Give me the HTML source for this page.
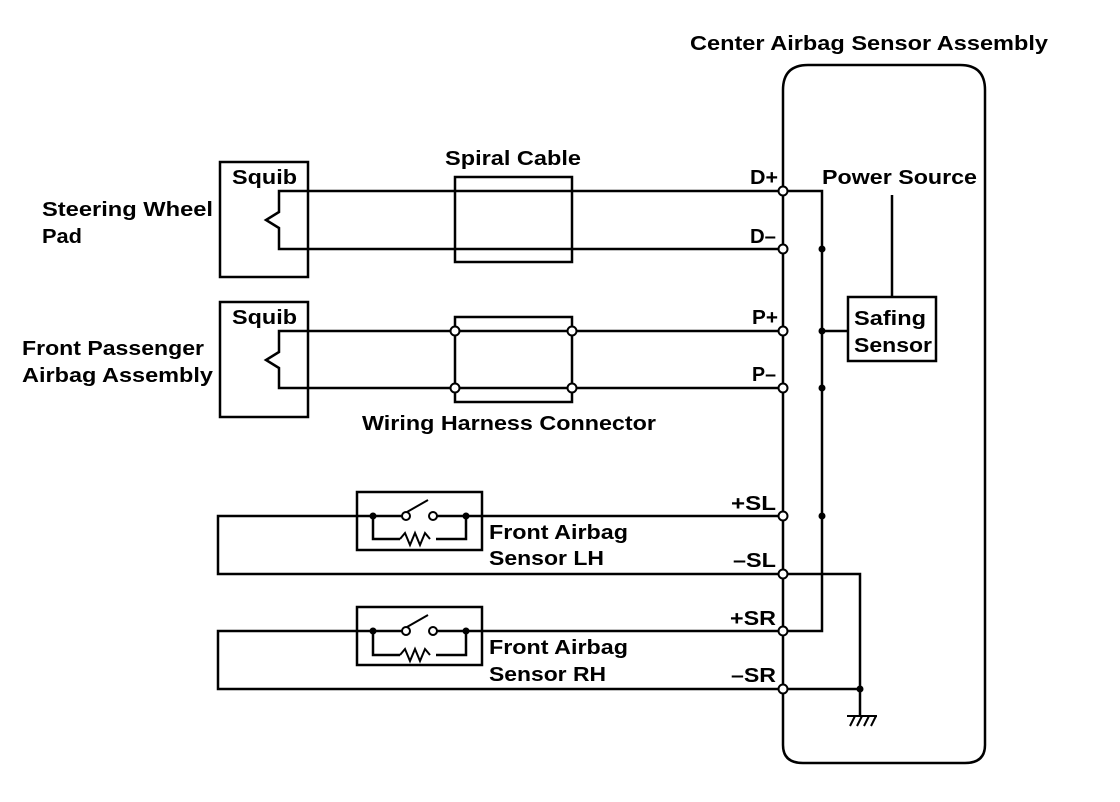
<!DOCTYPE html>
<html><head><style>body{margin:0;background:#fff}svg{display:block}text{font-family:"Liberation Sans",sans-serif;font-size:20px;font-weight:bold;fill:#000}</style></head>
<body>
<svg width="1120" height="802" viewBox="0 0 1120 802" xmlns="http://www.w3.org/2000/svg">
<g fill="none" stroke="#000" stroke-width="2.5">
<path d="M783 745 L783 90 Q783 65 808 65 L960 65 Q985 65 985 90 L985 745 Q985 763 965 763 L803 763 Q783 763 783 745 Z"/>
<rect x="220" y="162" width="88" height="115"/>
<rect x="220" y="302" width="88" height="115"/>
<path d="M783 191 L279 191 L279 212 L266 220 L279 228 L279 249 L783 249"/>
<path d="M783 331 L279 331 L279 352 L266 360 L279 368 L279 388 L783 388"/>
<rect x="455" y="177" width="117" height="85"/>
<path d="M455 331 L455 317 L572 317 L572 331 M455 388 L455 402 L572 402 L572 388 M455 331 L455 388 M572 331 L572 388"/>
<path d="M783 191 L822 191 L822 631 L783 631"/>
<path d="M822 331 L848 331"/>
<rect x="848" y="297" width="88" height="64"/>
<path d="M892 195 L892 297"/>
<path d="M783 516 L218 516 L218 574 L783 574"/>
<path d="M783 631 L218 631 L218 689 L783 689"/>
<path d="M783 574 L860 574 L860 689 L783 689"/>
<path d="M860 689 L860 716"/>
<rect x="357" y="492" width="125" height="58"/>
<rect x="357" y="607" width="125" height="58"/>
<path d="M373 516 L373 539 L400 539 M436 539 L466 539 L466 516"/>
<path d="M373 631 L373 655 L400 655 M436 655 L466 655 L466 631"/>
<path d="M400 539 l5 -6 l5 12 l5 -12 l5 12 l5 -12 l5 6" stroke-width="2"/>
<path d="M400 655 l5 -6 l5 12 l5 -12 l5 12 l5 -12 l5 6" stroke-width="2"/>
</g>
<g stroke="#fff" stroke-width="5"><path d="M409 516 L432 516 M409 631 L432 631"/></g>
<g fill="none" stroke="#000" stroke-width="2"><path d="M407 512 L428 500 M407 627 L428 615"/>
<path d="M847 716 L877 716 M850 726 L855 716 M857 726 L862 716 M864 726 L869 716 M871 726 L876 716"/></g>
<g fill="#fff" stroke="#000" stroke-width="2">
<circle cx="783" cy="191" r="4.5"/><circle cx="783" cy="249" r="4.5"/><circle cx="783" cy="331" r="4.5"/><circle cx="783" cy="388" r="4.5"/>
<circle cx="783" cy="516" r="4.5"/><circle cx="783" cy="574" r="4.5"/><circle cx="783" cy="631" r="4.5"/><circle cx="783" cy="689" r="4.5"/>
<circle cx="455" cy="331" r="4.5"/><circle cx="572" cy="331" r="4.5"/><circle cx="455" cy="388" r="4.5"/><circle cx="572" cy="388" r="4.5"/>
<circle cx="406" cy="516" r="4"/><circle cx="433" cy="516" r="4"/><circle cx="406" cy="631" r="4"/><circle cx="433" cy="631" r="4"/>
</g>
<g fill="#000">
<circle cx="822" cy="249" r="3.5"/><circle cx="822" cy="331" r="3.5"/><circle cx="822" cy="388" r="3.5"/><circle cx="822" cy="516" r="3.5"/>
<circle cx="860" cy="689" r="3.5"/><circle cx="373" cy="516" r="3.5"/><circle cx="466" cy="516" r="3.5"/><circle cx="373" cy="631" r="3.5"/><circle cx="466" cy="631" r="3.5"/>
</g>
<text x="690" y="50" textLength="358" lengthAdjust="spacingAndGlyphs">Center Airbag Sensor Assembly</text>
<text x="232" y="184" textLength="65" lengthAdjust="spacingAndGlyphs">Squib</text>
<text x="232" y="324" textLength="65" lengthAdjust="spacingAndGlyphs">Squib</text>
<text x="445" y="165" textLength="136" lengthAdjust="spacingAndGlyphs">Spiral Cable</text>
<text x="42" y="216" textLength="171" lengthAdjust="spacingAndGlyphs">Steering Wheel</text>
<text x="42" y="243" textLength="40" lengthAdjust="spacingAndGlyphs">Pad</text>
<text x="22" y="355" textLength="182" lengthAdjust="spacingAndGlyphs">Front Passenger</text>
<text x="22" y="382" textLength="191" lengthAdjust="spacingAndGlyphs">Airbag Assembly</text>
<text x="362" y="430" textLength="294" lengthAdjust="spacingAndGlyphs">Wiring Harness Connector</text>
<text x="822" y="184" textLength="155" lengthAdjust="spacingAndGlyphs">Power Source</text>
<text x="854" y="325" textLength="72" lengthAdjust="spacingAndGlyphs">Safing</text>
<text x="854" y="352" textLength="78" lengthAdjust="spacingAndGlyphs">Sensor</text>
<text x="750" y="184" textLength="28" lengthAdjust="spacingAndGlyphs">D+</text>
<text x="750" y="243" textLength="26" lengthAdjust="spacingAndGlyphs">D–</text>
<text x="752" y="324" textLength="26" lengthAdjust="spacingAndGlyphs">P+</text>
<text x="752" y="381" textLength="24" lengthAdjust="spacingAndGlyphs">P–</text>
<text x="731" y="510" textLength="45" lengthAdjust="spacingAndGlyphs">+SL</text>
<text x="733" y="567" textLength="43" lengthAdjust="spacingAndGlyphs">–SL</text>
<text x="730" y="625" textLength="46" lengthAdjust="spacingAndGlyphs">+SR</text>
<text x="731" y="682" textLength="45" lengthAdjust="spacingAndGlyphs">–SR</text>
<text x="489" y="539" textLength="139" lengthAdjust="spacingAndGlyphs">Front Airbag</text>
<text x="489" y="565" textLength="115" lengthAdjust="spacingAndGlyphs">Sensor LH</text>
<text x="489" y="654" textLength="139" lengthAdjust="spacingAndGlyphs">Front Airbag</text>
<text x="489" y="681" textLength="117" lengthAdjust="spacingAndGlyphs">Sensor RH</text>
</svg>
</body></html>
